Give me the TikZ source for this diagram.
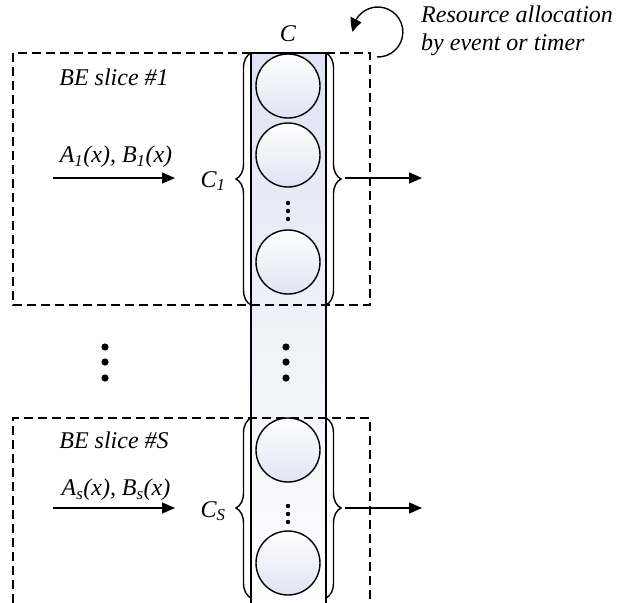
\documentclass[tikz,border=0pt]{standalone}
\usepackage{fontspec}
\setmainfont{Liberation Serif}
\usetikzlibrary{arrows.meta,bending,decorations.pathreplacing,positioning}
\definecolor{fondcol}{RGB}{224,227,243}
\begin{document}
\begin{tikzpicture}[x=1pt,y=-1pt,
	tranche/.style={dash pattern=on 9pt off 5pt, line width=1.3pt},
	canal/.style={circle, draw, line width=1.4pt, minimum size=64pt, inner sep=0pt, top color=white, bottom color=fondcol},
	fleche/.style={line width=1.4pt, -{Triangle[length=13pt,width=11pt]}},
	accol/.style={decorate, decoration={brace, amplitude=15pt}, line width=1.4pt},
	txt/.style={font=\fontsize{24}{28}\selectfont\itshape, inner sep=0pt}]
	\useasboundingbox (0,0) rectangle (622,603);
	%colonne des ressources
	\fill[top color=fondcol, bottom color=white] (251,53) rectangle (326,603);
	\draw[line width=1.4pt] (251,603) -- (251,53) -- (326,53) -- (326,603);
	\node[txt] (cap) at (288,34) {C};
	%tranche 1
	\draw[tranche] (13,53) rectangle (370,305);
	\node[txt] (tr1) at (114,77) {BE slice \#1};
	\node[canal] (r11) at (288,86) {};
	\node[canal] (r12) at (288,155) {};
	\node[canal] (r13) at (288,262) {};
	\foreach \y in {203,211,219} \fill (288,\y) circle (2.2pt);
	\draw[accol] (251,305) -- (251,53);
	\draw[accol] (326,53) -- (326,305);
	\node[txt] (c1) at (213,181) {C\textsubscript{1}};
	\node[txt] (ab1) at (116,157) {A\textsubscript{1}(x), B\textsubscript{1}(x)};
	\coordinate (e1) at (53,178);
	\coordinate (f1) at (175,178);
	\coordinate (s1) at (345,178);
	\coordinate (t1) at (422,178);
	\draw[fleche] (e1) -- (f1);
	\draw[fleche] (s1) -- (t1);
	%points de suspension
	\foreach \y in {347,362,378} {
		\fill (105,\y) circle (3.6pt);
		\fill (286,\y) circle (3.6pt);
	}
	%tranche S
	\draw[tranche] (13,603) -- (13,418) -- (370,418) -- (370,603);
	\node[txt] (trs) at (114,440) {BE slice \#S};
	\node[canal] (rs1) at (288,450) {};
	\node[canal] (rs2) at (288,563) {};
	\foreach \y in {506,514,522} \fill (288,\y) circle (2.2pt);
	\draw[accol] (251,598) -- (251,418);
	\draw[accol] (326,418) -- (326,598);
	\node[txt] (cs) at (213,511) {C\textsubscript{S}};
	\node[txt] (abs) at (116,490) {A\textsubscript{s}(x), B\textsubscript{s}(x)};
	\coordinate (es) at (53,508);
	\coordinate (fs) at (175,508);
	\coordinate (ss) at (345,508);
	\coordinate (ts) at (422,508);
	\draw[fleche] (es) -- (fs);
	\draw[fleche] (ss) -- (ts);
	%allocation
	\draw[line width=1.4pt, -{Triangle[length=13pt,width=12pt,bend]}] (377,57) arc[start angle=92, end angle=-180, radius=25];
	\node[txt, align=left, anchor=west] (res) at (421,31) {Resource allocation\\by event or timer};
\end{tikzpicture}
\end{document}
